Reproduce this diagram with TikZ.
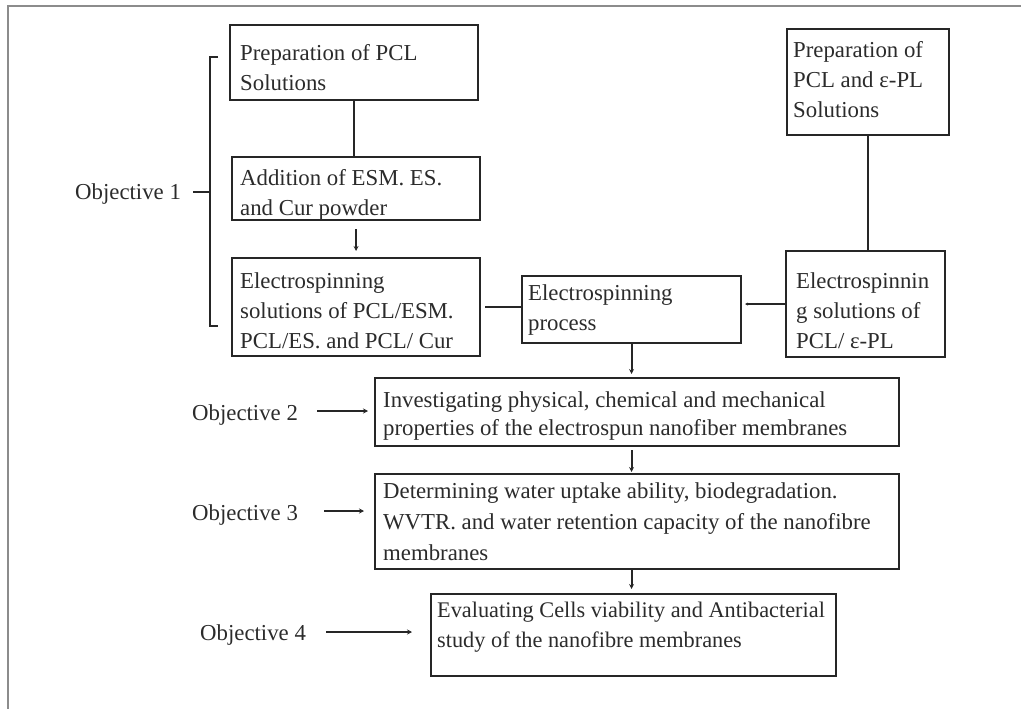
\documentclass[tikz,border=0pt]{standalone}
\usepackage{fontspec}
\setmainfont{Liberation Serif}
\usetikzlibrary{arrows.meta,calc}
\definecolor{ink}{HTML}{262626}
\definecolor{txt}{HTML}{2B2B2B}
\definecolor{frame}{HTML}{8C8C8C}
\tikzset{
  boxnode/.style={draw=ink, line width=2.1pt, rectangle, inner sep=0pt, anchor=north west},
  txtnode/.style={inner sep=0pt, anchor=north west, align=left, text=txt, font=\fontsize{22.8}{30}\selectfont},
  objnode/.style={inner sep=0pt, anchor=base west, text=txt, font=\fontsize{22.8}{30}\selectfont},
  conn/.style={draw=ink, line width=2pt},
  arr/.style={draw=ink, line width=2pt, -{Stealth[length=5pt,width=5pt]}},
}
\begin{document}
\begin{tikzpicture}[x=1pt,y=-1pt]
\useasboundingbox (0,0) rectangle (1021,709);
% frame
\draw[frame, line width=2pt] (8,709) -- (8,6) -- (1021,6);

% boxes
\node[boxnode, minimum width=248pt, minimum height=75pt] (A) at (229,24) {};
\node[boxnode, minimum width=248pt, minimum height=63pt] (B) at (231,156) {};
\node[boxnode, minimum width=248pt, minimum height=98pt] (C) at (231,257) {};
\node[boxnode, minimum width=219pt, minimum height=67pt] (D) at (521,275) {};
\node[boxnode, minimum width=162pt, minimum height=106pt] (E) at (786,28) {};
\node[boxnode, minimum width=159pt, minimum height=106pt] (F) at (785,250) {};
\node[boxnode, minimum width=524pt, minimum height=68pt] (G) at (374,377) {};
\node[boxnode, minimum width=524pt, minimum height=95pt] (H) at (374,473) {};
\node[boxnode, minimum width=405pt, minimum height=82pt] (I) at (430,593) {};

% box texts
\node[txtnode] (At) at (240,44) {Preparation of PCL\\Solutions};
\node[txtnode] (Bt) at (240,169) {Addition of ESM. ES.\\and Cur powder};
\node[txtnode] (Ct) at (240,272) {Electrospinning\\solutions of PCL/ESM.\\PCL/ES. and PCL/ Cur};
\node[txtnode] (Dt) at (528,284) {Electrospinning\\process};
\node[txtnode] (Et) at (793,41) {Preparation of\\PCL and ε-PL\\Solutions};
\node[txtnode] (Ft) at (796,272) {Electrospinnin\\g solutions of\\PCL/ ε-PL};
\node[txtnode, font=\fontsize{22.8}{28}\selectfont] (Gt) at (383,391) {Investigating physical, chemical and mechanical\\properties of the electrospun nanofiber membranes};
\node[txtnode, font=\fontsize{22.8}{31}\selectfont] (Ht) at (383,482) {Determining water uptake ability, biodegradation.\\WVTR. and water retention capacity of the nanofibre\\membranes};
\node[txtnode, font=\fontsize{22.3}{30}\selectfont] (It) at (437,602) {Evaluating Cells viability and Antibacterial\\study of the nanofibre membranes};

% objective labels
\node[objnode] (O1) at (75,199) {Objective 1};
\node[objnode] (O2) at (192,420) {Objective 2};
\node[objnode] (O3) at (192,520) {Objective 3};
\node[objnode] (O4) at (200,640) {Objective 4};

% helper coordinates
\coordinate (y1) at (0,192);
\coordinate (y2) at (0,411);
\coordinate (y3) at (0,511);
\coordinate (y4) at (0,632);
\coordinate (bt) at (218,57);
\coordinate (bb) at (218,326);
\coordinate (bx) at (210,192);

% bracket for objective 1
\draw[conn] (bt) -- ++(-8,0) -- ($(bb)+(-8,0)$) -- (bb);
\draw[conn, shorten <=12pt] (O1.east |- y1) -- (bx);

% objective arrows
\draw[arr, shorten <=19pt, shorten >=6pt] (O2.east |- y2) -- (G.west |- y2);
\draw[arr, shorten <=26pt, shorten >=10pt] (O3.east |- y3) -- (H.west |- y3);
\draw[arr, shorten <=20pt, shorten >=18pt] (O4.east |- y4) -- (I.west |- y4);

% flow connectors
\draw[conn] (A.south) -- (A.south |- B.north);
\draw[arr, shorten <=8pt, shorten >=6pt] (B.south) -- (C.north);
\draw[conn, shorten <=4pt] (C.east) -- (C.east -| D.west);
\draw[arr, -{Stealth[length=3pt,width=3pt]}, shorten >=3pt] (F.west) -- (F.west -| D.east);
\draw[conn] (E.south) -- (E.south |- F.north);
\draw[arr, shorten >=3pt] (D.south) -- (D.south |- G.north);
\draw[arr, shorten <=3pt, shorten >=1pt] (D.south |- G.south) -- (D.south |- H.north);
\draw[arr, shorten >=4pt] (D.south |- H.south) -- (D.south |- I.north);
\end{tikzpicture}
\end{document}
